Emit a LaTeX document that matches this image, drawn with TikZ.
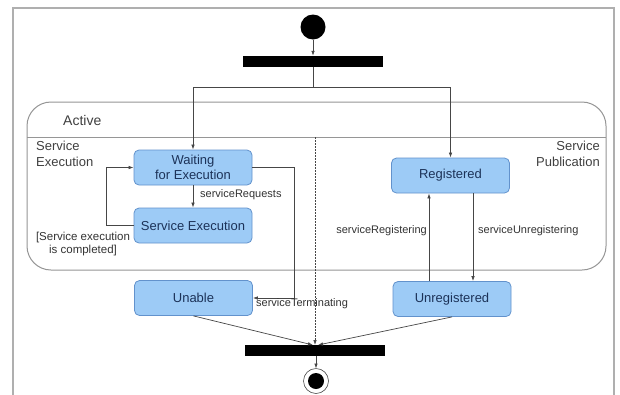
\documentclass[tikz,border=0pt]{standalone}
\usepackage{fontspec}
\setmainfont{Liberation Sans}
\usetikzlibrary{arrows.meta,calc}
\definecolor{boxfill}{RGB}{157,203,246}
\definecolor{boxline}{RGB}{98,146,204}
\definecolor{boxtext}{RGB}{28,50,88}
\definecolor{conn}{RGB}{70,70,70}
\definecolor{framec}{RGB}{175,175,175}
\definecolor{activec}{RGB}{150,150,150}
\tikzset{
  statebox/.style={draw=boxline, fill=boxfill, rounded corners=5pt, line width=0.8pt,
    minimum width=118pt, minimum height=35pt, inner sep=0pt, align=center,
    text=boxtext, font=\fontsize{13}{15}\selectfont},
  syncbar/.style={fill=black, draw=none, minimum width=140pt, minimum height=11pt, inner sep=0pt},
  conn/.style={draw=conn, line width=0.7pt},
  arr/.style={conn, -{Latex[length=5pt,width=3.5pt]}},
  elabel/.style={font=\fontsize{11}{13}\selectfont, text=black!80, inner sep=0pt},
  regionlabel/.style={font=\fontsize{13}{15.5}\selectfont, text=black!75, inner sep=0pt}
}
\begin{document}
\begin{tikzpicture}[x=1pt,y=-1pt]
\clip (0,0) rectangle (620,394);
\fill[white] (0,0) rectangle (620,394);
% outer frame
\draw[framec, line width=1.5pt] (13,420) -- (13,8) -- (614,8) -- (614,420);
% Active composite state
\draw[activec, line width=1pt, rounded corners=24pt] (27,102) rectangle (606,270);
\draw[activec, line width=1pt] (27,137) -- (606,137);
\node[regionlabel, anchor=west, font=\fontsize{14}{16}\selectfont] (activelbl) at (63,120) {Active};
\node[regionlabel, anchor=north west, align=left] (selbl) at (36,141) {Service\\Execution};
\node[regionlabel, anchor=north east, align=right] (splbl) at (600,141) {Service\\Publication};
% initial and fork
\fill[black] (313,27) circle (12.5);
\coordinate (init) at (313,39.5);
\node[syncbar] (b1) at (313,61.5) {};
\draw[arr] (init) -- (b1.north);
% states
\node[statebox] (w) at (193,167.5) {Waiting\\for Execution};
\node[statebox] (se) at (193,225.5) {Service Execution};
\node[statebox] (un) at (193.5,298) {Unable};
\node[statebox] (reg) at (450.5,175.5) {Registered};
\node[statebox] (ureg) at (452,299) {Unregistered};
% fork to states
\coordinate (split) at (313,87);
\draw[conn] (b1.south) -- (split);
\draw[arr] (split) -| (w.north);
\draw[arr] (split) -| (reg.north);
% service execution region
\draw[arr] (w.south) -- (se.north);
\node[elabel, anchor=west] (reqlbl) at (200,195) {serviceRequests};
\draw[arr] (se.west) -- ++(-27,0) |- (w.west);
\node[elabel, anchor=north, align=center, font=\fontsize{11.5}{13}\selectfont] (cmpl) at (83,232) {[Service execution\\is completed]};
\draw[arr] (w.east) -- ++(42,0) |- (un.east);
\node[elabel, anchor=west] (termlbl) at (256,304) {serviceTerminating};
% publication region
\draw[arr] ([xshift=-21.5pt]reg.south |- ureg.north) -- ([xshift=-21.5pt]reg.south);
\draw[arr] ([xshift=22.5pt]reg.south) -- ([xshift=22.5pt]reg.south |- ureg.north);
\node[elabel, anchor=east] (reglbl) at (427,231) {serviceRegistering};
\node[elabel, anchor=west] (unreglbl) at (478,231) {serviceUnregistering};
% join
\node[syncbar] (b2) at (314.5,350.5) {};
\coordinate (dtop) at (315,137);
\draw[arr, dash pattern=on 1.5pt off 1.5pt] (dtop) -- (315,345);
\draw[arr] (un.south) -- (313,345);
\draw[arr] (ureg.south) -- (318,345);
% final
\draw[black!70, line width=0.6pt, fill=white] (316,381) circle (12.5);
\fill[black] (316,381) circle (8);
\coordinate (fin) at (316,368.5);
\draw[arr] (b2.south -| fin) -- (fin);
\end{tikzpicture}
\end{document}
